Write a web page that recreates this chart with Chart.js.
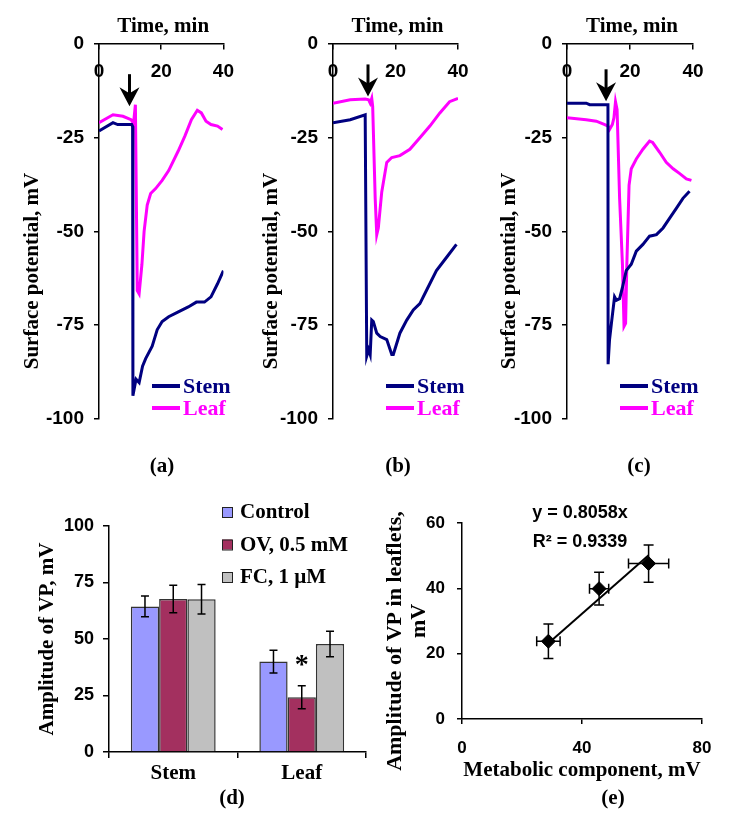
<!DOCTYPE html>
<html>
<head>
<meta charset="utf-8">
<title>Variation potential</title>
<script src="https://cdn.jsdelivr.net/npm/chart.js@4.4.1/dist/chart.umd.min.js"></script>
<style>
  body { margin: 0; background: #fff; }
  #fig { position: relative; width: 742px; height: 821px; overflow: hidden; }
  #fig canvas { position: absolute; }
  .panel { position: absolute; font: bold 21px "Liberation Serif", serif; transform: translate(-50%, -50%); white-space: nowrap; }
</style>
</head>
<body>
<div id="fig">
  <canvas id="chartA" width="245" height="440" style="left:0;top:0"></canvas>
  <canvas id="chartB" width="245" height="440" style="left:240px;top:0"></canvas>
  <canvas id="chartC" width="262" height="440" style="left:480px;top:0"></canvas>
  <canvas id="chartD" width="400" height="350" style="left:0;top:470px"></canvas>
  <canvas id="chartE" width="362" height="350" style="left:380px;top:470px"></canvas>
  <div class="panel" style="left:162px;top:465px">(a)</div>
  <div class="panel" style="left:398px;top:465px">(b)</div>
  <div class="panel" style="left:639px;top:465px">(c)</div>
  <div class="panel" style="left:232px;top:797px">(d)</div>
  <div class="panel" style="left:613px;top:797px">(e)</div>
</div>
<script>
const NAVY = '#000080'
const MAGENTA = '#ff00ff'
const SERIF = '"Liberation Serif", "Times New Roman", serif'
const SANS = '"Liberation Sans", Arial, sans-serif'

// (a) surface potential traces, min / mV
const timeStemA = [0, 4.5, 6, 10.5, 10.8, 10.9, 11.9, 12.9, 14, 15, 17.1, 18.7, 20.3, 22.4, 25.5, 28.7, 31.3, 33.9, 36, 38.1, 40]
const stemA = [-23.2, -21, -21.5, -21.5, -22, -93.9, -89.5, -90.4, -86, -84, -80.7, -76.3, -74.1, -72.8, -71.5, -70.2, -68.9, -68.9, -67.5, -64, -60.5]
const timeLeafA = [0, 4.5, 7.7, 10.3, 11.1, 11.7, 12.3, 12.9, 13.8, 14.5, 15.5, 16.6, 18.2, 20.3, 22.4, 25.5, 27.6, 29.7, 31.6, 32.9, 34.4, 36, 38.1, 39.7]
const leafA = [-21, -18.9, -19.3, -20.2, -21.2, -16.2, -65.8, -66.7, -58.8, -50, -43, -39.9, -38.6, -36.4, -33.8, -28.5, -24.6, -20.2, -17.7, -18.4, -20.6, -21.5, -21.9, -22.8]

// (b)
const timeStemB = [0, 5.5, 10.3, 10.8, 11.4, 11.9, 12.4, 12.9, 14, 15.1, 17.2, 18.8, 19.3, 21.4, 23.6, 25.7, 27.8, 29.9, 33.1, 36.3, 39.5]
const stemB = [-21, -20.2, -18.9, -83.3, -81.6, -82.9, -73.7, -74.1, -77.2, -78.1, -78.9, -82.9, -82.9, -77.2, -73.7, -71, -69.3, -65.8, -60.5, -57, -53.5]
const timeLeafB = [0, 5.5, 10.3, 11.4, 11.9, 12.4, 12.7, 13.5, 14, 14.5, 15.6, 17.2, 18.8, 21.4, 24.6, 27.8, 31, 34.2, 37.3, 40]
const leafB = [-15.8, -14.9, -14.7, -14.9, -15.8, -14.5, -16.7, -41.2, -50.9, -49.1, -39.5, -31.6, -30.3, -29.8, -28.1, -25, -21.9, -18.4, -15.4, -14.5]

// (c)
const timeStemC = [0, 6.1, 7.2, 13, 13.05, 13.5, 14.1, 15.1, 15.7, 16.7, 17.6, 18.8, 20.4, 22, 24.1, 26.2, 28.4, 30.5, 32.6, 34.7, 36.8, 38.9]
const stemC = [-15.8, -15.8, -16.2, -16.2, -85.5, -79, -74.6, -67.5, -68.4, -68, -65, -60.5, -58.8, -55.3, -53.5, -51.3, -50.9, -49.1, -46.5, -43.9, -41.2, -39.3]
const timeLeafC = [0, 6.1, 9.3, 12, 13, 13.5, 14.4, 14.9, 15.4, 15.9, 16.7, 17.6, 18.1, 18.6, 19, 19.7, 20.4, 22, 24.1, 26.2, 27.2, 29.4, 31.5, 33.7, 35.8, 37.9, 39.5]
const leafC = [-19.7, -20.2, -20.6, -21.5, -21.9, -22.8, -21.5, -19.7, -15.4, -17.5, -41.2, -58.8, -75.4, -74.6, -58.8, -37.7, -33.3, -30.7, -28.1, -25.9, -26.3, -28.9, -31.6, -33.3, -34.6, -36, -36.4]

// stimulus arrows: time and tip level
const arrowTime = [9.8, 11.2, 12.4]
const arrowTip = [-16.6, -14, -15.3]

// (d) amplitudes of VP
const organs = ['Stem', 'Leaf']
const treatments = ['Control', 'OV, 0.5 mM', 'FC, 1 µM']
const ampControl = [64.4, 40]
const ampOV = [67.7, 24.2]
const ampFC = [67.6, 47.8]
const errControl = [4.6, 5]
const errOV = [6.1, 5.1]
const errFC = [6.5, 5.6]
const starOV = ['', '*']

// (e) leaflet amplitude vs metabolic component
const metabolic = [28.8, 45.7, 62.2]
const metabolicErr = [3.9, 3.2, 6.7]
const leaflet = [23.8, 39.9, 47.6]
const leafletErr = [5.3, 5, 5.7]
const slope = 0.8058
const r2 = 0.9339

function pts(xs, ys) {
  return xs.map((x, i) => ({x: x, y: ys[i]}))
}

const tickFont = {family: SANS, size: 19, weight: 'bold'}

const traceDecor = {
  id: 'traceDecor',
  afterDraw(chart, args, opts) {
    const {ctx, chartArea: a, scales: {x, y}} = chart
    ctx.save()
    ctx.fillStyle = '#000'
    ctx.textAlign = 'center'
    ctx.textBaseline = 'middle'
    ctx.font = 'bold 21px ' + SERIF
    ctx.fillText('Time, min', (a.left + a.right) / 2 + 2, a.top - 17)

    ctx.save()
    ctx.translate(opts.titleX, 271)
    ctx.rotate(-Math.PI / 2)
    ctx.fillText('Surface potential, mV', 0, 0)
    ctx.restore()

    // arrow
    const ax = x.getPixelForValue(opts.arrowTime)
    const ay = y.getPixelForValue(opts.arrowTip)
    ctx.strokeStyle = '#000'
    ctx.lineWidth = 3
    ctx.beginPath()
    ctx.moveTo(ax, ay - 32)
    ctx.lineTo(ax, ay - 10)
    ctx.stroke()
    ctx.beginPath()
    ctx.moveTo(ax, ay)
    ctx.lineTo(ax - 10, ay - 19)
    ctx.lineTo(ax, ay - 13)
    ctx.lineTo(ax + 10, ay - 19)
    ctx.closePath()
    ctx.fill()

    // legend
    chart.data.datasets.forEach((ds, i) => {
      const ly = a.top + 342 + i * 22
      ctx.strokeStyle = ds.borderColor
      ctx.lineWidth = 4
      ctx.beginPath()
      ctx.moveTo(a.left + 53, ly)
      ctx.lineTo(a.left + 81, ly)
      ctx.stroke()
      ctx.fillStyle = ds.borderColor
      ctx.textAlign = 'left'
      ctx.font = 'bold 22px ' + SERIF
      ctx.fillText(ds.label, a.left + 84, ly + 1)
    })
    ctx.restore()
  }
}

function tracePanel(id, box, stem, leaf, k) {
  const canvas = document.getElementById(id)
  const yWidth = box.axisLeft - box.canvasLeft
  new Chart(canvas, {
    type: 'line',
    data: {
      datasets: [
        {label: 'Stem', data: stem, borderColor: NAVY, borderWidth: 3, pointRadius: 0, tension: 0},
        {label: 'Leaf', data: leaf, borderColor: MAGENTA, borderWidth: 3, pointRadius: 0, tension: 0}
      ]
    },
    options: {
      responsive: false,
      animation: false,
      layout: {padding: {left: 0, top: 44, bottom: 17, right: canvas.width - (box.axisRight - box.canvasLeft)}},
      plugins: {
        legend: {display: false},
        tooltip: {enabled: false},
        traceDecor: {titleX: box.titleX - box.canvasLeft, arrowTime: arrowTime[k], arrowTip: arrowTip[k]}
      },
      scales: {
        x: {
          type: 'linear',
          position: {y: 0},
          min: 0,
          max: 40,
          ticks: {stepSize: 20, font: tickFont, color: '#000', padding: 11},
          grid: {drawOnChartArea: false, tickLength: 5, color: '#000', lineWidth: 1.5},
          border: {color: '#000', width: 1.5}
        },
        y: {
          min: -100,
          max: 0,
          ticks: {stepSize: 25, font: tickFont, color: '#000', padding: 10},
          grid: {drawOnChartArea: false, tickLength: 5, color: '#000', lineWidth: 1.5},
          border: {color: '#000', width: 1.5},
          afterFit(scale) { scale.width = yWidth }
        }
      }
    },
    plugins: [traceDecor]
  })
}

tracePanel('chartA', {canvasLeft: 0, axisLeft: 99, axisRight: 226, titleX: 33},
  pts(timeStemA, stemA), pts(timeLeafA, leafA), 0)
tracePanel('chartB', {canvasLeft: 240, axisLeft: 333, axisRight: 458, titleX: 272},
  pts(timeStemB, stemB), pts(timeLeafB, leafB), 1)
tracePanel('chartC', {canvasLeft: 480, axisLeft: 567, axisRight: 693, titleX: 510},
  pts(timeStemC, stemC), pts(timeLeafC, leafC), 2)

// (d) bar chart with error bars
const barErrors = [errControl, errOV, errFC]
const barStars = [['', ''], starOV, ['', '']]

const barDecor = {
  id: 'barDecor',
  afterDatasetsDraw(chart) {
    const {ctx, scales: {y}} = chart
    ctx.save()
    ctx.strokeStyle = '#000'
    ctx.lineWidth = 1.5
    chart.data.datasets.forEach((ds, i) => {
      chart.getDatasetMeta(i).data.forEach((bar, j) => {
        const e = barErrors[i][j]
        const t = y.getPixelForValue(ds.data[j] + e)
        const b = y.getPixelForValue(ds.data[j] - e)
        ctx.beginPath()
        ctx.moveTo(bar.x, t); ctx.lineTo(bar.x, b)
        ctx.moveTo(bar.x - 4, t); ctx.lineTo(bar.x + 4, t)
        ctx.moveTo(bar.x - 4, b); ctx.lineTo(bar.x + 4, b)
        ctx.stroke()
        if (barStars[i][j]) {
          ctx.fillStyle = '#000'
          ctx.font = 'bold 28px ' + SERIF
          ctx.textAlign = 'center'
          ctx.textBaseline = 'middle'
          ctx.fillText(barStars[i][j], bar.x, t - 20)
        }
      })
    })
    ctx.restore()
  },
  afterDraw(chart) {
    const {ctx, chartArea: a} = chart
    ctx.save()
    chart.data.datasets.forEach((ds, i) => {
      const ly = a.top - 14 + i * 32.5
      ctx.fillStyle = ds.backgroundColor
      ctx.fillRect(a.left + 113, ly - 5, 10, 10)
      ctx.strokeStyle = '#222'
      ctx.lineWidth = 1
      ctx.strokeRect(a.left + 113.5, ly - 4.5, 10, 10)
      ctx.fillStyle = '#000'
      ctx.font = 'bold 21px ' + SERIF
      ctx.textAlign = 'left'
      ctx.textBaseline = 'middle'
      ctx.fillText(ds.label, a.left + 131, ly + 1)
    })
    ctx.restore()
  }
}

new Chart(document.getElementById('chartD'), {
  type: 'bar',
  data: {
    labels: organs,
    datasets: [
      {label: treatments[0], data: ampControl, backgroundColor: '#9999ff'},
      {label: treatments[1], data: ampOV, backgroundColor: '#a3305f'},
      {label: treatments[2], data: ampFC, backgroundColor: '#c0c0c0'}
    ].map(ds => Object.assign(ds, {borderColor: '#333', borderWidth: 1.5, categoryPercentage: 0.66, barPercentage: 1}))
  },
  options: {
    responsive: false,
    animation: false,
    layout: {padding: {left: 35.4, top: 56, bottom: 28, right: 34}},
    plugins: {legend: {display: false}, tooltip: {enabled: false}},
    scales: {
      x: {
        ticks: {font: {family: SERIF, size: 21, weight: 'bold'}, color: '#000', padding: 3},
        grid: {drawOnChartArea: false, tickLength: 6, color: '#000', lineWidth: 1.5},
        border: {color: '#000', width: 1.5},
        afterFit(scale) { scale.height = 40 }
      },
      y: {
        min: 0,
        max: 100,
        ticks: {stepSize: 25, font: {family: SANS, size: 18, weight: 'bold'}, color: '#000', padding: 9},
        grid: {drawOnChartArea: false, tickLength: 6, color: '#000', lineWidth: 1.5},
        border: {color: '#000', width: 1.5},
        title: {display: true, text: 'Amplitude of VP, mV', font: {family: SERIF, size: 21, weight: 'bold'}, color: '#000', padding: 0},
        afterFit(scale) { scale.width = 109 - 35.4 }
      }
    }
  },
  plugins: [barDecor]
})

// (e) scatter with error bars and trend line
const trendX = [Math.min(...metabolic), Math.max(...metabolic)]
const trendPts = trendX.map(x => ({x: x, y: slope * x}))

const scatterDecor = {
  id: 'scatterDecor',
  beforeDatasetsDraw(chart) {
    const {ctx, scales: {x, y}} = chart
    ctx.save()
    ctx.strokeStyle = '#000'
    ctx.lineWidth = 1.5
    metabolic.forEach((m, i) => {
      const px = x.getPixelForValue(m)
      const py = y.getPixelForValue(leaflet[i])
      const x0 = x.getPixelForValue(m - metabolicErr[i])
      const x1 = x.getPixelForValue(m + metabolicErr[i])
      const y0 = y.getPixelForValue(leaflet[i] - leafletErr[i])
      const y1 = y.getPixelForValue(leaflet[i] + leafletErr[i])
      ctx.beginPath()
      ctx.moveTo(x0, py); ctx.lineTo(x1, py)
      ctx.moveTo(x0, py - 5); ctx.lineTo(x0, py + 5)
      ctx.moveTo(x1, py - 5); ctx.lineTo(x1, py + 5)
      ctx.moveTo(px, y0); ctx.lineTo(px, y1)
      ctx.moveTo(px - 5, y0); ctx.lineTo(px + 5, y0)
      ctx.moveTo(px - 5, y1); ctx.lineTo(px + 5, y1)
      ctx.stroke()
    })
    ctx.restore()
  },
  afterDraw(chart) {
    const {ctx, chartArea: a} = chart
    ctx.save()
    ctx.fillStyle = '#000'
    ctx.textAlign = 'center'
    ctx.textBaseline = 'middle'
    ctx.font = 'bold 18px ' + SANS
    ctx.fillText('y = ' + slope + 'x', a.left + 118, a.top - 10)
    ctx.fillText('R² = ' + r2, a.left + 118, a.top + 19)

    ctx.font = 'bold 22px ' + SERIF
    ctx.save()
    ctx.translate(15, 171)
    ctx.rotate(-Math.PI / 2)
    ctx.fillText('Amplitude of VP in leaflets,', 0, 0)
    ctx.fillText('mV', 20, 24)
    ctx.restore()
    ctx.restore()
  }
}

new Chart(document.getElementById('chartE'), {
  type: 'scatter',
  data: {
    datasets: [
      {type: 'line', label: 'Trend', data: trendPts, borderColor: '#000', borderWidth: 2, pointRadius: 0, tension: 0},
      {label: 'Leaflets', data: pts(metabolic, leaflet), pointStyle: 'rectRot', pointRadius: 7, backgroundColor: '#000', borderColor: '#000'}
    ]
  },
  options: {
    responsive: false,
    animation: false,
    layout: {padding: {left: 0, top: 53, bottom: 37, right: 40}},
    plugins: {legend: {display: false}, tooltip: {enabled: false}},
    scales: {
      x: {
        type: 'linear',
        min: 0,
        max: 80,
        ticks: {stepSize: 40, font: {family: SANS, size: 17, weight: 'bold'}, color: '#000', padding: 14},
        grid: {drawOnChartArea: false, tickLength: 5, color: '#000', lineWidth: 1.5},
        border: {color: '#000', width: 1.5},
        title: {display: true, text: 'Metabolic component, mV', font: {family: SERIF, size: 21, weight: 'bold'}, color: '#000', padding: 0},
        afterFit(scale) { scale.height = 64 }
      },
      y: {
        min: 0,
        max: 60,
        ticks: {stepSize: 20, font: {family: SANS, size: 17, weight: 'bold'}, color: '#000', padding: 12},
        grid: {drawOnChartArea: false, tickLength: 5, color: '#000', lineWidth: 1.5},
        border: {color: '#000', width: 1.5},
        afterFit(scale) { scale.width = 82 }
      }
    }
  },
  plugins: [scatterDecor]
})
</script>
</body>
</html>
